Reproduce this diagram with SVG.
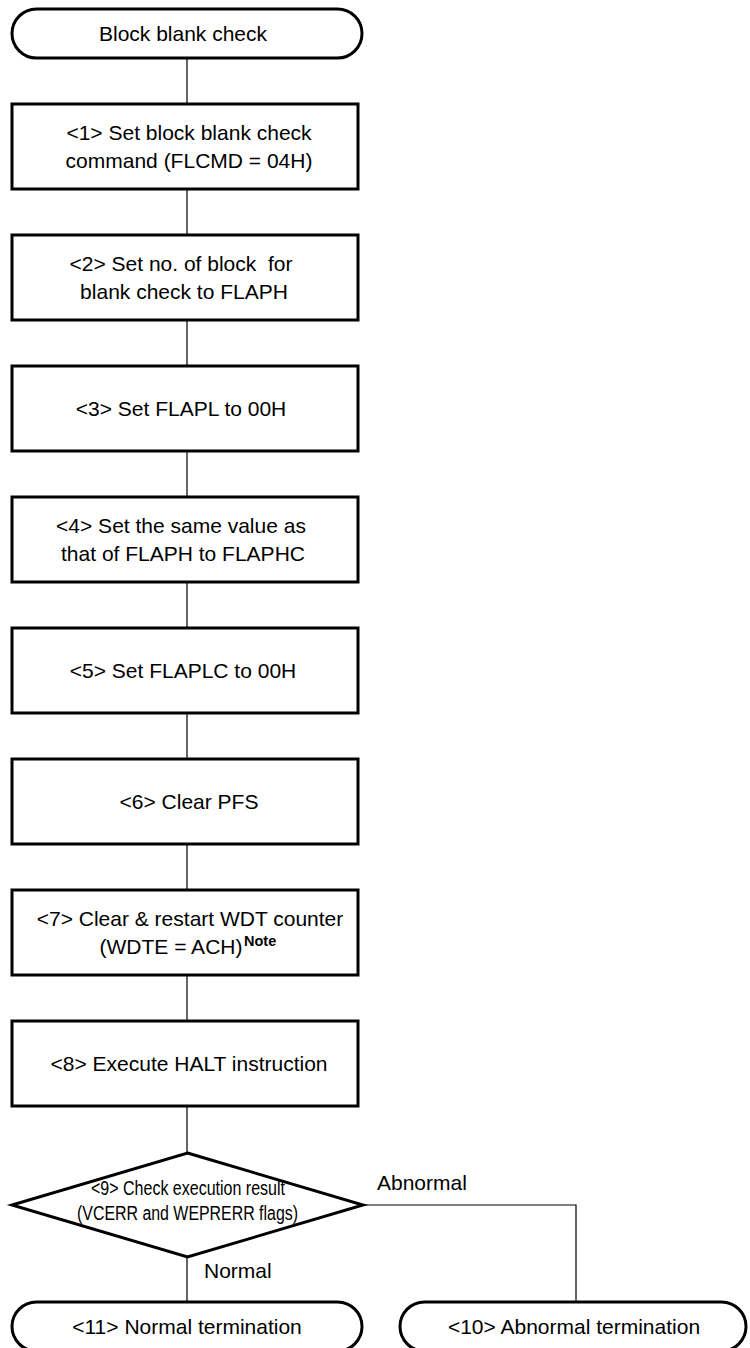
<svg xmlns="http://www.w3.org/2000/svg" width="750" height="1348" viewBox="0 0 750 1348">
<style>
.n{fill:#fff;stroke:#000;stroke-width:3}
.c{fill:none;stroke:#000;stroke-width:1.2}
text{font-family:"Liberation Sans",Arial,sans-serif;font-size:21px;fill:#000;text-anchor:middle}
.d{font-size:20px}
.sup{font-size:14.5px;font-weight:bold;text-anchor:start}
.l{text-anchor:start}
</style>
<rect width="750" height="1348" fill="#fff"/>
<g id="connectors">
<path class="c" d="M187 58V104M187 189V235M187 320V366M187 451V497M187 582V628M187 713V759M187 844V890M187 975V1021M187 1106V1153M187 1257V1302M363 1205H576V1302"/>
</g>
<g id="start"><rect class="n" x="12" y="9" width="350" height="49" rx="24.5"/><text x="183" y="41">Block blank check</text></g>
<g id="s1"><rect class="n" x="12" y="104" width="346" height="85"/><text x="189" y="140">&lt;1&gt; Set block blank check</text><text x="189" y="168">command (FLCMD = 04H)</text></g>
<g id="s2"><rect class="n" x="12" y="235" width="346" height="85"/><text x="181" y="271" xml:space="preserve">&lt;2&gt; Set no. of block  for</text><text x="184" y="299">blank check to FLAPH</text></g>
<g id="s3"><rect class="n" x="12" y="366" width="346" height="85"/><text x="181" y="416">&lt;3&gt; Set FLAPL to 00H</text></g>
<g id="s4"><rect class="n" x="12" y="497" width="346" height="85"/><text x="181" y="533">&lt;4&gt; Set the same value as</text><text x="183" y="561">that of FLAPH to FLAPHC</text></g>
<g id="s5"><rect class="n" x="12" y="628" width="346" height="85"/><text x="183" y="678">&lt;5&gt; Set FLAPLC to 00H</text></g>
<g id="s6"><rect class="n" x="12" y="759" width="346" height="85"/><text x="189" y="809">&lt;6&gt; Clear PFS</text></g>
<g id="s7"><rect class="n" x="12" y="890" width="346" height="85"/><text x="190" y="926">&lt;7&gt; Clear &amp; restart WDT counter</text><text x="171" y="954">(WDTE = ACH)</text><text class="sup" x="244" y="946">Note</text></g>
<g id="s8"><rect class="n" x="12" y="1021" width="346" height="85"/><text x="189" y="1071">&lt;8&gt; Execute HALT instruction</text></g>
<g id="s9"><polygon class="n" points="187.5,1153 363,1205 187.5,1257 12,1205"/><text class="d" x="188" y="1195" textLength="194" lengthAdjust="spacingAndGlyphs">&lt;9&gt; Check execution result</text><text class="d" x="187.5" y="1220" textLength="221" lengthAdjust="spacingAndGlyphs">(VCERR and WEPRERR flags)</text></g>
<text class="l" x="377" y="1190">Abnormal</text>
<text class="l" x="204" y="1278">Normal</text>
<g id="s11"><rect class="n" x="12" y="1302" width="350" height="49" rx="24.5"/><text x="187" y="1334">&lt;11&gt; Normal termination</text></g>
<g id="s10"><rect class="n" x="400" y="1302" width="346" height="49" rx="24.5"/><text x="574" y="1334">&lt;10&gt; Abnormal termination</text></g>
</svg>
